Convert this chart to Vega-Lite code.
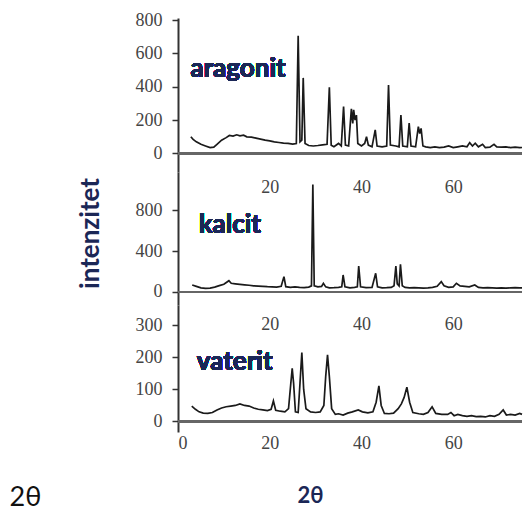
{
  "$schema": "https://vega.github.io/schema/vega-lite/v6.json",
  "padding": {"left": 9, "top": 11, "right": 0, "bottom": 0},
  "autosize": {"type": "pad"},
  "background": "white",
  "spacing": 0,
  "bounds": "flush",
  "config": {
    "view": {"stroke": null},
    "axis": {
      "grid": false,
      "labelFont": "Liberation Serif",
      "labelFontSize": 18,
      "labelColor": "#444",
      "labelOverlap": false,
      "domainColor": "#333",
      "domainWidth": 2,
      "tickColor": "#333",
      "tickWidth": 1.5
    }
  },
  "datasets": {
    "aragonit": [
      {"t": 2.8, "I": 100}, {"t": 3.3, "I": 85}, {"t": 4, "I": 70}, {"t": 5, "I": 55}, {"t": 6, "I": 45}, {"t": 7, "I": 35}, {"t": 7.8, "I": 38}, {"t": 8.5, "I": 55}, {"t": 9.5, "I": 80}, {"t": 10.5, "I": 95}, {"t": 11.2, "I": 108}, {"t": 12, "I": 104}, {"t": 12.8, "I": 112}, {"t": 13.5, "I": 106}, {"t": 14.3, "I": 110}, {"t": 15, "I": 100}, {"t": 16, "I": 98}, {"t": 17, "I": 92}, {"t": 18, "I": 86}, {"t": 19, "I": 80}, {"t": 20, "I": 76}, {"t": 21, "I": 70}, {"t": 22, "I": 66}, {"t": 23, "I": 62}, {"t": 24, "I": 60}, {"t": 25, "I": 56}, {"t": 25.8, "I": 60}, {"t": 26.2, "I": 705}, {"t": 26.6, "I": 70}, {"t": 27.0, "I": 80}, {"t": 27.3, "I": 453}, {"t": 27.7, "I": 60}, {"t": 28.5, "I": 48}, {"t": 29.5, "I": 45}, {"t": 30.5, "I": 48}, {"t": 31.5, "I": 52}, {"t": 32.5, "I": 55}, {"t": 33.0, "I": 397}, {"t": 33.4, "I": 50}, {"t": 34, "I": 40}, {"t": 35, "I": 60}, {"t": 35.6, "I": 45}, {"t": 36.1, "I": 281}, {"t": 36.5, "I": 50}, {"t": 37.2, "I": 45}, {"t": 37.8, "I": 267}, {"t": 38.1, "I": 180}, {"t": 38.3, "I": 262}, {"t": 38.6, "I": 200}, {"t": 38.9, "I": 230}, {"t": 39.2, "I": 60}, {"t": 40, "I": 45}, {"t": 40.7, "I": 60}, {"t": 41.1, "I": 100}, {"t": 41.5, "I": 50}, {"t": 42.3, "I": 40}, {"t": 43.0, "I": 141}, {"t": 43.4, "I": 45}, {"t": 44.5, "I": 40}, {"t": 45.5, "I": 45}, {"t": 45.9, "I": 411}, {"t": 46.3, "I": 50}, {"t": 47.5, "I": 45}, {"t": 48.2, "I": 40}, {"t": 48.6, "I": 231}, {"t": 49.0, "I": 45}, {"t": 50, "I": 40}, {"t": 50.4, "I": 183}, {"t": 50.8, "I": 45}, {"t": 51.8, "I": 40}, {"t": 52.4, "I": 161}, {"t": 52.7, "I": 120}, {"t": 53.0, "I": 150}, {"t": 53.4, "I": 45}, {"t": 54, "I": 40}, {"t": 55, "I": 35}, {"t": 56, "I": 40}, {"t": 57, "I": 35}, {"t": 58, "I": 38}, {"t": 59, "I": 45}, {"t": 60, "I": 35}, {"t": 61, "I": 40}, {"t": 62, "I": 45}, {"t": 63, "I": 40}, {"t": 63.6, "I": 65}, {"t": 64.2, "I": 45}, {"t": 64.8, "I": 62}, {"t": 65.5, "I": 40}, {"t": 66.4, "I": 55}, {"t": 67, "I": 35}, {"t": 68, "I": 38}, {"t": 68.9, "I": 55}, {"t": 69.5, "I": 40}, {"t": 70.5, "I": 38}, {"t": 71.5, "I": 40}, {"t": 72.5, "I": 35}, {"t": 73.5, "I": 38}, {"t": 74.5, "I": 35}, {"t": 75, "I": 36}
    ],
    "kalcit": [
      {"t": 3.1, "I": 68}, {"t": 4, "I": 55}, {"t": 5, "I": 40}, {"t": 6, "I": 36}, {"t": 7, "I": 38}, {"t": 8, "I": 48}, {"t": 9, "I": 62}, {"t": 10, "I": 75}, {"t": 11.1, "I": 110}, {"t": 11.6, "I": 85}, {"t": 12.5, "I": 80}, {"t": 13.5, "I": 75}, {"t": 14.5, "I": 70}, {"t": 15.5, "I": 66}, {"t": 16.5, "I": 60}, {"t": 17.5, "I": 58}, {"t": 18.5, "I": 55}, {"t": 19.5, "I": 52}, {"t": 20.5, "I": 50}, {"t": 21.5, "I": 48}, {"t": 22.5, "I": 55}, {"t": 23.1, "I": 150}, {"t": 23.5, "I": 52}, {"t": 24.5, "I": 45}, {"t": 25.5, "I": 50}, {"t": 26.5, "I": 45}, {"t": 27.5, "I": 42}, {"t": 28.5, "I": 48}, {"t": 29.1, "I": 60}, {"t": 29.4, "I": 1050}, {"t": 29.7, "I": 60}, {"t": 30.5, "I": 50}, {"t": 31.3, "I": 55}, {"t": 31.7, "I": 85}, {"t": 32.2, "I": 50}, {"t": 33, "I": 40}, {"t": 34, "I": 42}, {"t": 35, "I": 45}, {"t": 35.7, "I": 50}, {"t": 36.0, "I": 166}, {"t": 36.4, "I": 50}, {"t": 37.5, "I": 40}, {"t": 38.5, "I": 45}, {"t": 39.1, "I": 50}, {"t": 39.4, "I": 254}, {"t": 39.8, "I": 50}, {"t": 41, "I": 42}, {"t": 42.3, "I": 45}, {"t": 43.1, "I": 182}, {"t": 43.5, "I": 50}, {"t": 44.5, "I": 40}, {"t": 45.5, "I": 42}, {"t": 46.5, "I": 45}, {"t": 47.1, "I": 60}, {"t": 47.5, "I": 254}, {"t": 47.8, "I": 80}, {"t": 48.2, "I": 60}, {"t": 48.5, "I": 270}, {"t": 48.9, "I": 60}, {"t": 49.5, "I": 45}, {"t": 50.5, "I": 40}, {"t": 51.5, "I": 42}, {"t": 52.5, "I": 40}, {"t": 53.5, "I": 38}, {"t": 54.5, "I": 40}, {"t": 55.5, "I": 45}, {"t": 56.5, "I": 55}, {"t": 57.4, "I": 101}, {"t": 58, "I": 60}, {"t": 59, "I": 45}, {"t": 60, "I": 50}, {"t": 60.7, "I": 85}, {"t": 61.5, "I": 60}, {"t": 62.5, "I": 55}, {"t": 63.5, "I": 50}, {"t": 64.7, "I": 68}, {"t": 65.5, "I": 45}, {"t": 66.5, "I": 40}, {"t": 67.5, "I": 42}, {"t": 68.5, "I": 40}, {"t": 69.5, "I": 38}, {"t": 70.5, "I": 40}, {"t": 71.5, "I": 38}, {"t": 72.5, "I": 40}, {"t": 73.5, "I": 42}, {"t": 74.5, "I": 40}, {"t": 75, "I": 40}
    ],
    "vaterit": [
      {"t": 3.0, "I": 48}, {"t": 3.8, "I": 38}, {"t": 4.6, "I": 30}, {"t": 5.5, "I": 26}, {"t": 6.5, "I": 25}, {"t": 7.5, "I": 28}, {"t": 8.5, "I": 36}, {"t": 9.5, "I": 42}, {"t": 10.5, "I": 46}, {"t": 11.5, "I": 48}, {"t": 12.5, "I": 50}, {"t": 13.5, "I": 55}, {"t": 14.5, "I": 50}, {"t": 15.5, "I": 48}, {"t": 16.5, "I": 42}, {"t": 17.5, "I": 38}, {"t": 18.5, "I": 36}, {"t": 19.5, "I": 34}, {"t": 20.3, "I": 38}, {"t": 20.8, "I": 64}, {"t": 21.3, "I": 35}, {"t": 22.3, "I": 32}, {"t": 23.3, "I": 30}, {"t": 24.1, "I": 40}, {"t": 24.6, "I": 120}, {"t": 24.9, "I": 166}, {"t": 25.2, "I": 120}, {"t": 25.6, "I": 30}, {"t": 26.2, "I": 28}, {"t": 26.6, "I": 120}, {"t": 27.0, "I": 215}, {"t": 27.4, "I": 100}, {"t": 27.9, "I": 40}, {"t": 28.9, "I": 30}, {"t": 30, "I": 28}, {"t": 31, "I": 30}, {"t": 31.8, "I": 50}, {"t": 32.2, "I": 140}, {"t": 32.6, "I": 208}, {"t": 33.0, "I": 140}, {"t": 33.5, "I": 40}, {"t": 34.3, "I": 22}, {"t": 35, "I": 24}, {"t": 36, "I": 20}, {"t": 37, "I": 26}, {"t": 38, "I": 30}, {"t": 39.3, "I": 36}, {"t": 40.2, "I": 30}, {"t": 41.4, "I": 27}, {"t": 42.5, "I": 30}, {"t": 43.2, "I": 60}, {"t": 43.8, "I": 111}, {"t": 44.3, "I": 50}, {"t": 45, "I": 25}, {"t": 46, "I": 24}, {"t": 47, "I": 26}, {"t": 48, "I": 40}, {"t": 48.7, "I": 55}, {"t": 49.3, "I": 75}, {"t": 49.9, "I": 107}, {"t": 50.5, "I": 60}, {"t": 51.2, "I": 28}, {"t": 52.5, "I": 24}, {"t": 53.5, "I": 22}, {"t": 54.5, "I": 28}, {"t": 55.4, "I": 46}, {"t": 56.2, "I": 25}, {"t": 57.5, "I": 22}, {"t": 58.8, "I": 22}, {"t": 59.5, "I": 28}, {"t": 60.2, "I": 18}, {"t": 61, "I": 22}, {"t": 62, "I": 18}, {"t": 63, "I": 16}, {"t": 64, "I": 18}, {"t": 65, "I": 15}, {"t": 66, "I": 16}, {"t": 67, "I": 14}, {"t": 68, "I": 18}, {"t": 69, "I": 16}, {"t": 70, "I": 22}, {"t": 70.9, "I": 36}, {"t": 71.6, "I": 20}, {"t": 72.5, "I": 22}, {"t": 73.5, "I": 20}, {"t": 74.5, "I": 25}, {"t": 75, "I": 22}
    ]
  },
  "vconcat": [
    {
      "width": 344,
      "height": 154,
      "data": {"name": "aragonit"},
      "layer": [
        {
          "mark": {"type": "line", "color": "#1a1a1a", "strokeWidth": 1.7},
          "encoding": {
            "x": {"field": "t", "type": "quantitative", "scale": {"domain": [0, 75], "nice": false},
                  "axis": {"title": null, "values": [20, 40, 60], "tickCount": 10, "domain": false, "ticks": false, "tickSize": 0, "labelPadding": 6}},
            "y": {"field": "I", "type": "quantitative", "scale": {"domain": [-111, 812], "nice": false, "zero": false},
                  "axis": {"title": null, "values": [0, 200, 400, 600, 800], "tickCount": 10, "tickSize": 6, "labelPadding": 10}}
          }
        },
        {"mark": {"type": "rule", "color": "#666", "strokeWidth": 2}, "encoding": {"y": {"datum": 0}}},
        {
          "mark": {"type": "text", "text": "aragonit", "font": "Lato", "fontWeight": "bold", "fontSize": 26, "color": "#1b2756", "align": "left", "baseline": "alphabetic"},
          "encoding": {"x": {"datum": 2.7}, "y": {"datum": 461}}
        }
      ]
    },
    {
      "width": 344,
      "height": 133,
      "data": {"name": "kalcit"},
      "layer": [
        {
          "mark": {"type": "line", "color": "#1a1a1a", "strokeWidth": 1.7},
          "encoding": {
            "x": {"field": "t", "type": "quantitative", "scale": {"domain": [0, 75], "nice": false},
                  "axis": {"title": null, "values": [20, 40, 60], "tickCount": 10, "domain": false, "ticks": false, "tickSize": 0, "labelPadding": 10}},
            "y": {"field": "I", "type": "quantitative", "scale": {"domain": [-127, 1171], "nice": false, "zero": false},
                  "axis": {"title": "intenzitet", "values": [0, 400, 800], "tickCount": 10, "tickSize": 6, "labelPadding": 10,
                           "titleFont": "Lato", "titleFontWeight": "bold", "titleFontSize": 26, "titleColor": "#1b2756",
                           "titleAngle": -90, "titleAlign": "center", "titleBaseline": "alphabetic", "titleX": -80, "titleY": 61}}
          }
        },
        {"mark": {"type": "rule", "color": "#666", "strokeWidth": 2}, "encoding": {"y": {"datum": 0}}},
        {
          "mark": {"type": "text", "text": "kalcit", "font": "Lato", "fontWeight": "bold", "fontSize": 26, "color": "#1b2756", "align": "left", "baseline": "alphabetic"},
          "encoding": {"x": {"datum": 4.5}, "y": {"datum": 573}}
        }
      ]
    },
    {
      "width": 344,
      "height": 127,
      "data": {"name": "vaterit"},
      "layer": [
        {
          "mark": {"type": "line", "color": "#1a1a1a", "strokeWidth": 1.7},
          "encoding": {
            "x": {"field": "t", "type": "quantitative", "scale": {"domain": [0, 75], "nice": false},
                  "axis": {"title": "2θ", "values": [0, 20, 40, 60], "tickCount": 10, "domain": false, "ticks": false, "tickSize": 0, "labelPadding": 2,
                           "titleFont": "Lato", "titleFontWeight": "bold", "titleFontSize": 22, "titleColor": "#1b2756",
                           "titleAlign": "center", "titleBaseline": "alphabetic", "titleX": 132, "titleY": 70}},
            "y": {"field": "I", "type": "quantitative", "scale": {"domain": [-33, 364], "nice": false, "zero": false},
                  "axis": {"title": "2θ", "values": [0, 100, 200, 300], "tickCount": 10, "tickSize": 6, "labelPadding": 10,
                           "titleFont": "Lato", "titleFontWeight": "normal", "titleFontSize": 27, "titleColor": "#111",
                           "titleAngle": 0, "titleAlign": "left", "titleBaseline": "alphabetic", "titleX": -169, "titleY": 200}}
          }
        },
        {"mark": {"type": "rule", "color": "#666", "strokeWidth": 2}, "encoding": {"y": {"datum": 0}}},
        {
          "mark": {"type": "text", "text": "vaterit", "font": "Lato", "fontWeight": "bold", "fontSize": 26, "color": "#1b2756", "align": "left", "baseline": "alphabetic"},
          "encoding": {"x": {"datum": 4.1}, "y": {"datum": 161}}
        }
      ]
    }
  ]
}
